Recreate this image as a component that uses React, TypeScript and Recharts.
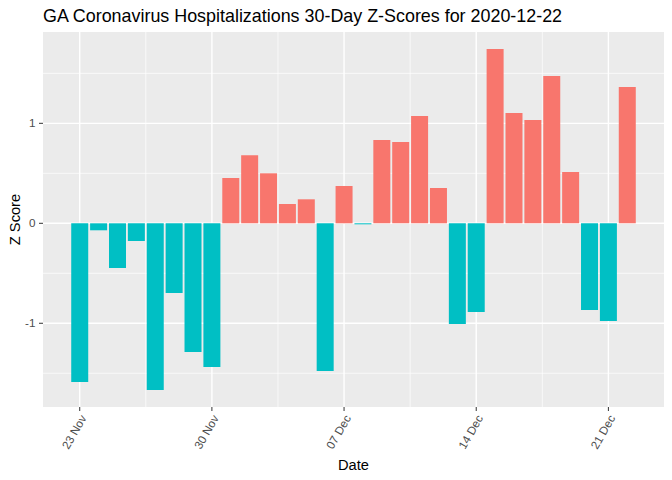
import React from 'react';
import { BarChart, Bar, XAxis, YAxis, CartesianGrid, Cell } from 'recharts';

const dates: string[] = [
  '2020-11-23', '2020-11-24', '2020-11-25', '2020-11-26', '2020-11-27', '2020-11-28',
  '2020-11-29', '2020-11-30', '2020-12-01', '2020-12-02', '2020-12-03', '2020-12-04',
  '2020-12-05', '2020-12-06', '2020-12-07', '2020-12-08', '2020-12-09', '2020-12-10',
  '2020-12-11', '2020-12-12', '2020-12-13', '2020-12-14', '2020-12-15', '2020-12-16',
  '2020-12-17', '2020-12-18', '2020-12-19', '2020-12-20', '2020-12-21', '2020-12-22',
];

const zScores: number[] = [
  -1.587, -0.07, -0.447, -0.177, -1.667, -0.697, -1.287, -1.437,
  0.453, 0.68, 0.5, 0.193, 0.24, -1.477, 0.373, -0.01,
  0.833, 0.813, 1.073, 0.353, -1.007, -0.887, 1.743, 1.103,
  1.033, 1.473, 0.513, -0.867, -0.977, 1.363,
];

const tickDays: number[] = [0, 7, 14, 21, 28];
const tickLabels: string[] = ['23 Nov', '30 Nov', '07 Dec', '14 Dec', '21 Dec'];
const minorXBreaks: number[] = [3.5, 10.5, 17.5, 24.5];
const majorYBreaks: number[] = [-1, 0, 1];
const minorYBreaks: number[] = [-1.5, -0.5, 0.5, 1.5];
const xDomain: [number, number] = [-1.945, 30.945];
const yDomain: [number, number] = [-1.8375, 1.9135];

const POS = '#F8766D';
const NEG = '#00BFC4';
const FONT = '"Liberation Sans", Arial, Helvetica, sans-serif';

const data = dates.map((d, i) => ({ day: i, date: d, z: zScores[i] }));

const XTick = (props: any) => {
  const { x, y, payload } = props;
  const i = tickDays.indexOf(payload.value);
  return (
    <g transform={`translate(${x + 7.3},${y + 7})`}>
      <text
        x={0}
        y={0}
        textAnchor="end"
        transform="rotate(-60)"
        fontSize={11.7}
        fill="#4D4D4D"
        fontFamily={FONT}
      >
        {i >= 0 ? tickLabels[i] : ''}
      </text>
    </g>
  );
};

export default function App() {
  return (
    <div
      style={{
        position: 'absolute',
        left: 0,
        top: 0,
        width: 672,
        height: 480,
        background: '#FFFFFF',
        fontFamily: FONT,
      }}
    >
      <div
        style={{
          position: 'absolute',
          left: 43,
          top: 7,
          fontSize: 17.9,
          lineHeight: '18px',
          color: '#000000',
          whiteSpace: 'nowrap',
          fontFamily: FONT,
        }}
      >
        GA Coronavirus Hospitalizations 30-Day Z-Scores for 2020-12-22
      </div>
      <BarChart
        width={672}
        height={480}
        data={data}
        margin={{ top: 32, right: 8, bottom: 0, left: 0 }}
        barCategoryGap="5%"
      >
        <CartesianGrid
          fill="#EBEBEB"
          stroke="#FFFFFF"
          strokeWidth={0.7}
          horizontalValues={minorYBreaks}
          verticalValues={minorXBreaks}
        />
        <CartesianGrid
          fill="none"
          stroke="#FFFFFF"
          strokeWidth={1.4}
          horizontalValues={majorYBreaks}
          verticalValues={tickDays}
        />
        <XAxis
          dataKey="day"
          type="number"
          domain={xDomain}
          allowDataOverflow
          ticks={tickDays}
          interval={0}
          height={73}
          tickSize={4}
          tickMargin={0}
          axisLine={false}
          tickLine={{ stroke: '#333333', strokeWidth: 1 }}
          tick={<XTick />}
          label={{
            content: (p: any) => {
              const vb = p.viewBox || {};
              return (
                <text
                  x={vb.x + vb.width / 2}
                  y={vb.y + vb.height - 10}
                  textAnchor="middle"
                  fontSize={14.67}
                  fill="#000000"
                  fontFamily={FONT}
                >
                  Date
                </text>
              );
            },
          }}
        />
        <YAxis
          type="number"
          domain={yDomain}
          allowDataOverflow
          ticks={majorYBreaks}
          width={43}
          tickSize={4}
          tickMargin={3.5}
          axisLine={false}
          tickLine={{ stroke: '#333333', strokeWidth: 1 }}
          tick={{ fontSize: 11.7, fill: '#4D4D4D', fontFamily: FONT }}
          label={{
            content: (p: any) => {
              const vb = p.viewBox || {};
              const cx = vb.x + 14.5;
              const cy = vb.y + vb.height / 2;
              return (
                <text
                  x={cx}
                  y={cy}
                  textAnchor="middle"
                  dominantBaseline="central"
                  transform={`rotate(-90, ${cx}, ${cy})`}
                  fontSize={14.67}
                  fill="#000000"
                  fontFamily={FONT}
                >
                  Z Score
                </text>
              );
            },
          }}
        />
        <Bar dataKey="z" isAnimationActive={false}>
          {data.map((d, i) => (
            <Cell key={i} fill={d.z > 0 ? POS : NEG} />
          ))}
        </Bar>
      </BarChart>
    </div>
  );
}
